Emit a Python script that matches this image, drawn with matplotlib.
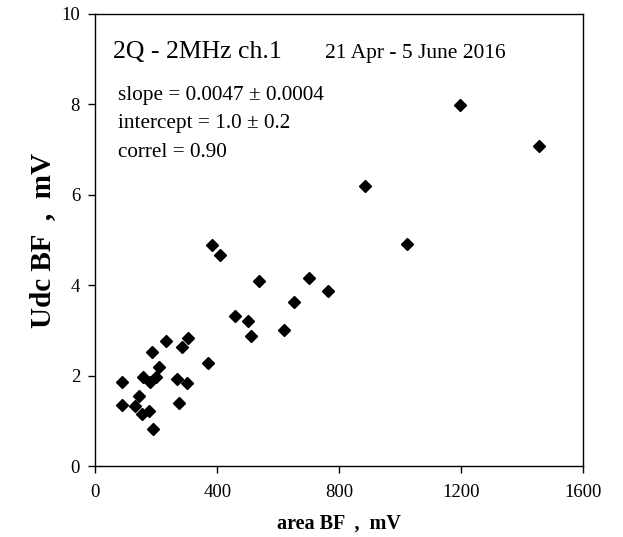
import matplotlib.pyplot as plt

plt.rcParams['font.family'] = ['Liberation Serif', 'DejaVu Serif']

# area BF (mV) vs Udc BF (mV)
area_bf = [87, 89, 130, 144, 152, 155, 177, 179, 187, 190, 199, 210, 233,
           269, 274, 283, 302, 305, 370, 384, 410, 458, 500, 511, 537, 620,
           653, 700, 763, 885, 1022, 1195, 1455]
udc_bf = [1.87, 1.36, 1.34, 1.54, 1.16, 1.98, 1.22, 1.87, 2.52, 0.83, 1.98,
          2.2, 2.76, 1.93, 1.39, 2.64, 1.83, 2.84, 2.27, 4.88, 4.68, 3.33,
          3.22, 2.88, 4.1, 3.0, 3.62, 4.16, 3.87, 6.2, 4.92, 7.98, 7.08]

x_ticks = [0, 400, 800, 1200, 1600]
y_ticks = [0, 2, 4, 6, 8, 10]

fig = plt.figure(figsize=(6.23, 5.37), dpi=100)
ax = fig.add_axes([0.153, 0.132, 0.783, 0.842])

ax.plot(area_bf, udc_bf, 'D', color='black', markersize=6.3, linestyle='none')

ax.set_xlim(0, 1600)
ax.set_ylim(0, 10)
ax.set_xticks(x_ticks)
ax.set_yticks(y_ticks)
ax.tick_params(direction='out', length=5, width=1, labelsize=13.5)
ax.tick_params(axis='x', pad=8)
ax.tick_params(axis='y', pad=6)
for sp in ax.spines.values():
    sp.set_linewidth(1)

ax.set_xlabel('area BF  ,  mV', fontsize=14.5, fontweight='bold', labelpad=9)
ax.set_ylabel('Udc BF  ,  mV', fontsize=21, fontweight='bold', labelpad=3.5)

ax.text(0.036, 0.903, '2Q - 2MHz ch.1', transform=ax.transAxes, fontsize=18.5,
        va='baseline')
ax.text(0.471, 0.903, '21 Apr - 5 June 2016', transform=ax.transAxes,
        fontsize=15.5, va='baseline')
ax.text(0.0455, 0.810, 'slope = 0.0047 \u00b1 0.0004', transform=ax.transAxes,
        fontsize=15.3, va='baseline')
ax.text(0.0455, 0.748, 'intercept = 1.0 \u00b1 0.2', transform=ax.transAxes,
        fontsize=15.3, va='baseline')
ax.text(0.0455, 0.684, 'correl = 0.90', transform=ax.transAxes,
        fontsize=15.3, va='baseline')

plt.savefig('out.png', dpi=100)
